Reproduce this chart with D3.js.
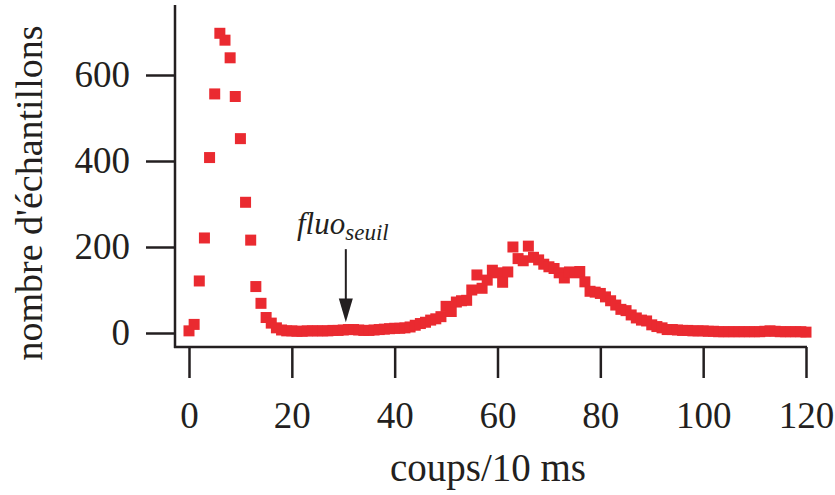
<!DOCTYPE html>
<html>
<head>
<meta charset="utf-8">
<script src="https://cdnjs.cloudflare.com/ajax/libs/d3/7.8.5/d3.min.js"></script>
<style>
  body { margin: 0; background: #fff; }
  svg text { font-family: "Liberation Serif", "Times New Roman", serif; fill: #231f20; }
  .axis line, .axis path { stroke: #231f20; stroke-width: 2.5px; }
</style>
</head>
<body>
<div id="chart"></div>
<script>
const WIDTH = 835;
const HEIGHT = 495;

// counts per bin (coups/10 ms)
const coups = d3.range(0, 121);
const echantillons = [
    5, 20, 121, 221, 408, 556, 697, 681, 640, 550,
    452, 304, 216, 108, 69, 36, 23, 12, 7, 5,
    5, 4, 4, 5, 5, 5, 5, 5, 6, 6,
    7, 8, 8, 7, 6, 6, 7, 8, 9, 10,
    11, 11, 12, 14, 18, 22, 25, 30, 33, 38,
    62, 50, 72, 75, 76, 100, 135, 104, 123, 146,
    140, 118, 142, 200, 173, 168, 202, 176, 170, 160,
    154, 150, 140, 128, 142, 140, 143, 119, 97, 95,
    92, 84, 75, 65, 55, 52, 42, 35, 30, 28,
    19, 15, 12, 8, 8, 7, 6, 6, 5, 5,
    5, 4, 4, 3, 3, 3, 3, 3, 3, 3,
    3, 3, 4, 5, 4, 3, 3, 3, 3, 3,
    2
];
const xTicks = [0, 20, 40, 60, 80, 100, 120];
const yTicks = [0, 200, 400, 600];
const seuil = 30.5;

const data = coups.map((c, i) => ({ c: c, n: echantillons[i] }));

const x = d3.scaleLinear().domain([0, 120]).range([189, 806]);
const y = d3.scaleLinear().domain([0, 600]).range([333, 75]);

const svg = d3.select('#chart')
    .append('svg')
    .attr('width', WIDTH)
    .attr('height', HEIGHT);

// axes
const xAxis = d3.axisBottom(x).tickValues(xTicks).tickSize(31).tickPadding(24).tickSizeOuter(0);
const yAxis = d3.axisLeft(y).tickValues(yTicks).tickSize(29).tickPadding(16).tickSizeOuter(0);

const gx = svg.append('g')
    .attr('class', 'axis')
    .attr('transform', 'translate(0,347)')
    .call(xAxis);
gx.select('.domain').remove();
gx.selectAll('text').style('font-size', '37px');

const gy = svg.append('g')
    .attr('class', 'axis')
    .attr('transform', 'translate(175,0)')
    .call(yAxis);
gy.select('.domain').remove();
gy.selectAll('text').style('font-size', '37px');

// axis lines
svg.append('line')
    .attr('x1', 175).attr('x2', 175)
    .attr('y1', 5).attr('y2', 348)
    .style('stroke', '#231f20').style('stroke-width', '2.5px');
svg.append('line')
    .attr('x1', 174).attr('x2', x(120) + 1)
    .attr('y1', 347).attr('y2', 347)
    .style('stroke', '#231f20').style('stroke-width', '2.5px');

// square markers
const s = 11;
svg.append('g')
    .selectAll('rect')
    .data(data)
    .enter()
    .append('rect')
    .attr('x', d => x(d.c) - s / 2)
    .attr('y', d => y(d.n) - s / 2)
    .attr('width', s)
    .attr('height', s)
    .style('fill', '#ea2a30');

// axis titles
svg.append('text')
    .attr('x', 488)
    .attr('y', 481)
    .attr('text-anchor', 'middle')
    .style('font-size', '39px')
    .text('coups/10 ms');

svg.append('text')
    .attr('transform', 'translate(42,193) rotate(-90)')
    .attr('text-anchor', 'middle')
    .style('font-size', '38px')
    .text("nombre d'échantillons");

// threshold annotation
const lbl = svg.append('text')
    .attr('x', 297)
    .attr('y', 234)
    .style('font-size', '31px')
    .style('font-style', 'italic');
lbl.append('tspan').text('fluo');
lbl.append('tspan')
    .attr('dy', 6)
    .style('font-size', '23px')
    .text('seuil');

const ax = x(seuil);
svg.append('line')
    .attr('x1', ax).attr('x2', ax)
    .attr('y1', y(195)).attr('y2', y(60))
    .style('stroke', '#231f20').style('stroke-width', '2px');
svg.append('path')
    .attr('d', `M${ax - 7},${y(80)} L${ax + 7},${y(80)} L${ax},${y(25)} Z`)
    .style('fill', '#231f20');
</script>
</body>
</html>
